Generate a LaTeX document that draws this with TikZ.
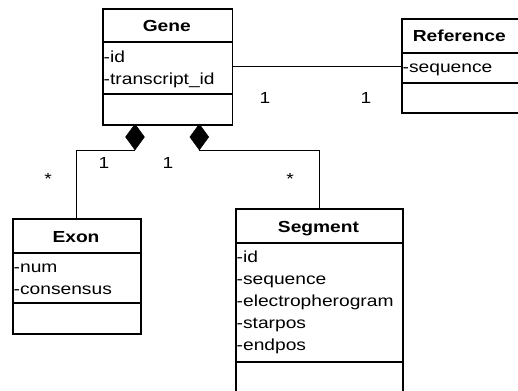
\documentclass[tikz,border=0pt]{standalone}
\usepackage{fontspec}
\setmainfont{Liberation Sans}
\usepackage{graphicx}
\usetikzlibrary{shapes.geometric}
% text in this drawing is set slightly widened
\newcommand{\wide}[1]{\scalebox{1.2}[1]{#1}}
\tikzset{
  classbox/.style={draw=black, line width=1.6pt, fill=white, rectangle,
    inner sep=0pt, anchor=north west},
  rule/.style={draw=black, line width=1.6pt},
  title/.style={anchor=base, inner sep=0pt,
    font=\bfseries\fontsize{16}{22}\selectfont},
  attr/.style={anchor=base west, inner sep=0pt,
    font=\fontsize{16}{22}\selectfont},
  mult/.style={anchor=base, inner sep=0pt,
    font=\fontsize{16}{22}\selectfont},
  comp/.style={diamond, fill=black, draw=black, line width=0.5pt,
    minimum width=19pt, minimum height=26pt, inner sep=0pt},
  link/.style={draw=black, line width=1pt},
}
\begin{document}
\begin{tikzpicture}[x=1pt, y=-1pt]
\useasboundingbox[fill=white] (0,0) rectangle (518,390);

% --- class Gene ---
\node[classbox, minimum width=129.5pt, minimum height=116pt] (gene) at (102,8) {};
\draw[rule] (gene.west |- 0,42) -- (gene.east |- 0,42);
\draw[rule] (gene.west |- 0,94) -- (gene.east |- 0,94);
\node[title] (geneT) at (166.8,32) {\wide{Gene}};
\node[attr] (geneA1) at (103.5,63) {\wide{-id}};
\node[attr] (geneA2) at (103.5,85) {\wide{-transcript\_id}};

% --- class Reference ---
\node[classbox, minimum width=116.5pt, minimum height=94pt] (ref) at (401,18) {};
\draw[rule] (ref.west |- 0,53) -- (ref.east |- 0,53);
\draw[rule] (ref.west |- 0,83) -- (ref.east |- 0,83);
\node[title] (refT) at (459.3,42) {\wide{Reference}};
\node[attr] (refA1) at (402.5,73) {\wide{-sequence}};

% --- class Exon ---
\node[classbox, minimum width=128pt, minimum height=115pt] (exon) at (12,218) {};
\draw[rule] (exon.west |- 0,253) -- (exon.east |- 0,253);
\draw[rule] (exon.west |- 0,303) -- (exon.east |- 0,303);
\node[title] (exonT) at (76,242) {\wide{Exon}};
\node[attr] (exonA1) at (13.5,272) {\wide{-num}};
\node[attr] (exonA2) at (13.5,294) {\wide{-consensus}};

% --- class Segment (runs past the lower edge) ---
\node[classbox, minimum width=167pt, minimum height=186pt] (seg) at (235,208) {};
\draw[rule] (seg.west |- 0,243) -- (seg.east |- 0,243);
\draw[rule] (seg.west |- 0,362) -- (seg.east |- 0,362);
\node[title] (segT) at (318.5,232) {\wide{Segment}};
\node[attr] (segA1) at (236.5,262) {\wide{-id}};
\node[attr] (segA2) at (236.5,284) {\wide{-sequence}};
\node[attr] (segA3) at (236.5,306) {\wide{-electropherogram}};
\node[attr] (segA4) at (236.5,328) {\wide{-starpos}};
\node[attr] (segA5) at (236.5,350) {\wide{-endpos}};

% --- association Gene -- Reference ---
\draw[link] (gene.east) -- (gene.east -| ref.west);
\node[mult] (mGR) at (265,104) {\wide{1}};
\node[mult] (mRG) at (366,104) {\wide{1}};

% --- compositions Gene <>-- Exon, Gene <>-- Segment ---
\node[comp] (dExon) at (135,137) {};
\node[comp] (dSeg) at (199.3,137) {};
\draw[link] (dExon.south) -| (exon.north);
\draw[link] (dSeg.south) -| (seg.north);
\node[mult] (mGE) at (104,168) {\wide{1}};
\node[mult] (mEG) at (48,184) {\wide{*}};
\node[mult] (mGS) at (168,168) {\wide{1}};
\node[mult] (mSG) at (290,184) {\wide{*}};
\end{tikzpicture}
\end{document}
